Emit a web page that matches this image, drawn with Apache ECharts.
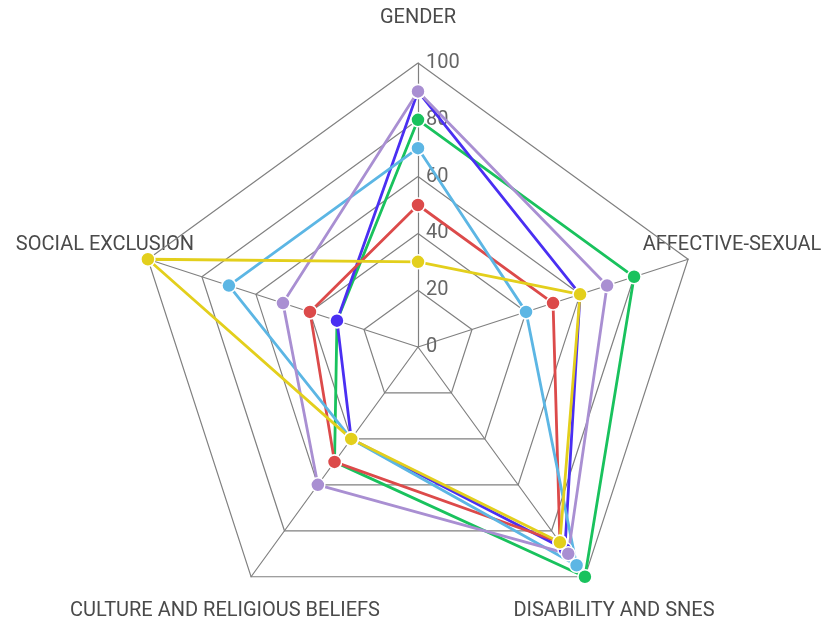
<!DOCTYPE html>
<html>
<head>
<meta charset="utf-8">
<script src="https://cdn.jsdelivr.net/npm/echarts@6/dist/echarts.min.js"></script>
<style>
  html, body { margin: 0; padding: 0; background: #fff; }
  #chart { width: 827px; height: 622px; }
</style>
</head>
<body>
<div id="chart"></div>
<script>
// indicator order follows the radar, counter-clockwise from the top
const indicators = ['GENDER', 'SOCIAL EXCLUSION', 'CULTURE AND RELIGIOUS BELIEFS', 'DISABILITY AND SNES', 'AFFECTIVE-SEXUAL'];
const tickLabels = [0, 20, 40, 60, 80, 100];

const greenValues = [80, 30, 50, 100, 80];
const blueValues = [90, 30, 40, 88, 60];
const redValues = [50, 40, 50, 85, 50];
const skyValues = [70, 70, 40, 95, 40];
const purpleValues = [90, 50, 60, 90, 70];
const yellowValues = [30, 100, 40, 85, 60];

const seriesList = [
  { name: 'green', color: '#19c25d', values: greenValues },
  { name: 'blue', color: '#4a2ff2', values: blueValues },
  { name: 'red', color: '#dc4a4a', values: redValues },
  { name: 'sky', color: '#5cb6e4', values: skyValues },
  { name: 'purple', color: '#a98fd2', values: purpleValues },
  { name: 'yellow', color: '#e3cf1c', values: yellowValues },
];

// axis names are placed by hand, like the original
const namePos = [
  [418, 18],
  [105, 245],
  [225, 611],
  [614, 611],
  [732, 245],
];

const myChart = echarts.init(document.getElementById('chart'), null, { renderer: 'canvas' });

const option = {
  animation: false,
  radar: {
    center: [418, 347],
    radius: 284,
    startAngle: 90,
    shape: 'polygon',
    splitNumber: 5,
    indicator: indicators.map((name, i) => ({
      name: name,
      min: tickLabels[0],
      max: tickLabels[tickLabels.length - 1],
      axisLabel: i === 0 ? {
        show: true,
        color: '#666',
        fontSize: 20,
        fontFamily: 'Roboto',
        align: 'left',
        margin: -8,
        padding: [6, 0, 0, 0],
      } : { show: false },
    })),
    axisName: { show: false },
    axisLine: { lineStyle: { color: '#808080', width: 1.2 } },
    splitLine: { lineStyle: { color: '#808080', width: 1.2 } },
    splitArea: { show: false },
  },
  graphic: indicators.map((name, i) => ({
    type: 'text',
    x: namePos[i][0],
    y: namePos[i][1],
    style: {
      text: name,
      fill: '#4a4a4a',
      font: '20px Roboto',
      align: 'center',
      verticalAlign: 'middle',
    },
  })),
  series: [{
    type: 'radar',
    symbol: 'circle',
    symbolSize: 14,
    data: seriesList.map((s) => ({
      name: s.name,
      value: s.values,
      lineStyle: { color: s.color, width: 2.8 },
      itemStyle: { color: s.color, borderColor: '#fff', borderWidth: 1.5 },
    })),
  }],
};

myChart.setOption(option);
</script>
</body>
</html>
